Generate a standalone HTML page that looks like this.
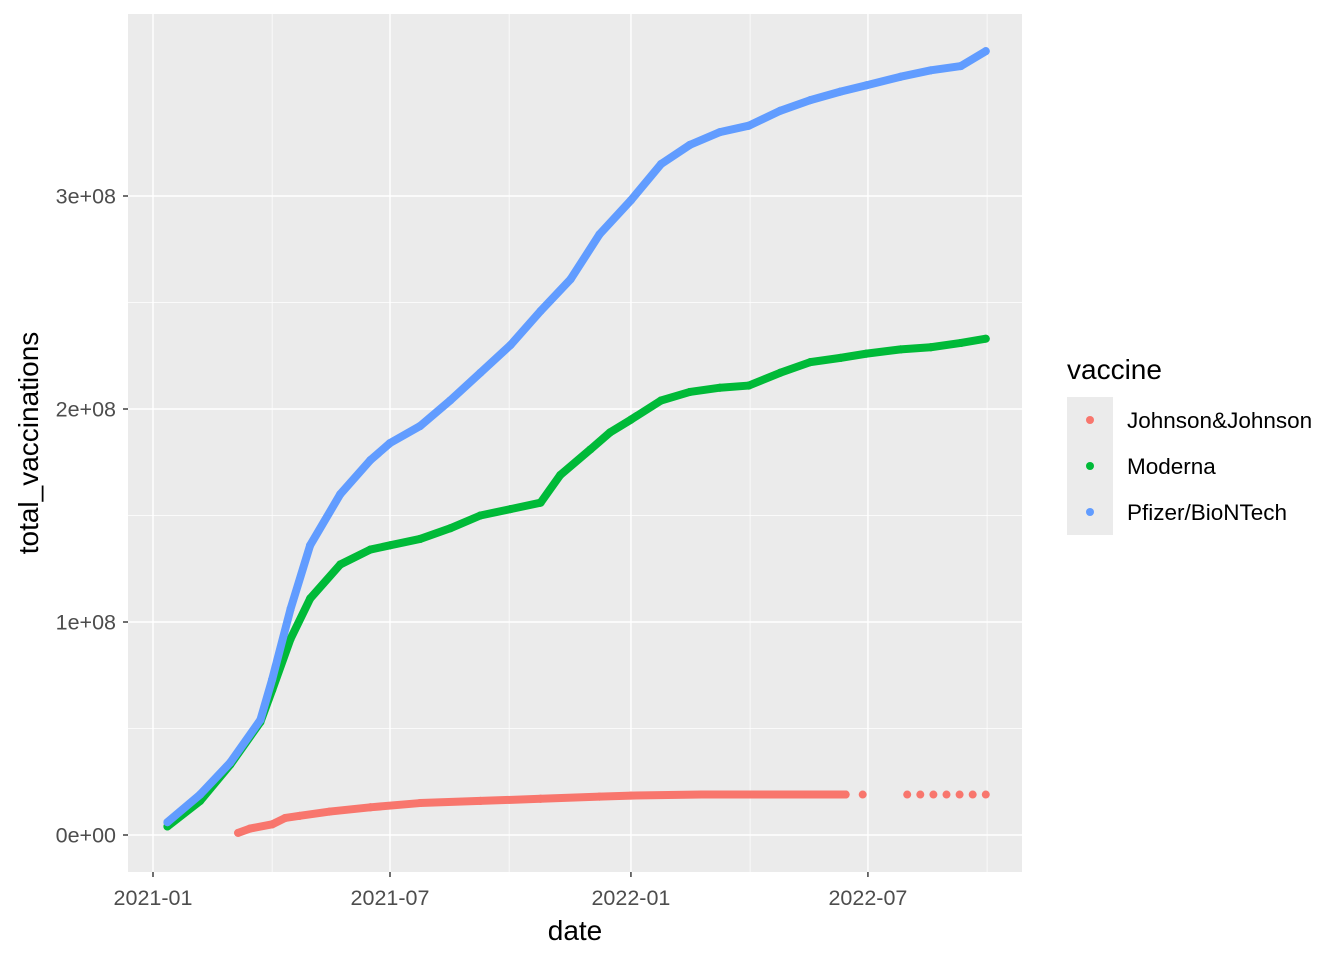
<!DOCTYPE html>
<html><head><meta charset="utf-8"><style>
body{margin:0;background:#fff;}
svg text{font-family:"Liberation Sans",Arial,sans-serif;}
</style></head><body>
<svg id="chart" width="1344" height="960" xmlns="http://www.w3.org/2000/svg">
<rect x="128" y="14" width="894" height="858" fill="#ebebeb"/>
<g id="grid"></g>
<g id="series"></g>
<g id="axes"></g>
<text x="575" y="940" font-size="28" text-anchor="middle" fill="#000">date</text>
<text transform="translate(38,443) rotate(-90)" font-size="28" text-anchor="middle" fill="#000">total_vaccinations</text>
<g>
<text x="1067" y="379" font-size="28" fill="#000">vaccine</text>
<rect x="1067" y="397" width="46" height="138" fill="#ebebeb"/>
<circle cx="1090" cy="420" r="4" fill="#F8766D"/>
<circle cx="1090" cy="466" r="4" fill="#00BA38"/>
<circle cx="1090" cy="512" r="4" fill="#619CFF"/>
<text x="1127" y="428" font-size="22.5">Johnson&amp;Johnson</text>
<text x="1127" y="474" font-size="22.5">Moderna</text>
<text x="1127" y="520" font-size="22.5">Pfizer/BioNTech</text>
</g>
</svg>
<script>
// days since 2021-01-01, values in millions
const pfDays=[11,36,59,82,91,105,120,143,166,181,204,227,250,273,296,319,341,365,388,410,433,455,479,502,525,545,571,594,617,636];
const pfVals=[6,19,34,54,73,106,136,160,176,184,192,204,217,230,246,261,282,298,315,324,330,333,340,345,349,352,356,359,361,368];
const moDays=[11,36,59,82,91,105,120,143,166,181,204,227,250,273,296,311,334,349,365,388,410,433,455,479,502,525,545,571,594,617,636];
const moVals=[4,16,33,53,68,92,111,127,134,136,139,144,150,153,156,169,181,189,195,204,208,210,211,217,222,224,226,228,229,231,233];
const jjDays=[65,74,91,101,112,135,166,204,250,296,341,365,419,457,500,529];
const jjVals=[1,3,5,8,9,11,13,15,16,17,18,18.5,19,19,19,19];
const jjLateDays=[542,576,586,596,606,616,626,636];
const jjLateVals=[19,19,19,19,19,19,19,19];
const yTicks=[0,100,200,300];
const yLabels=["0e+00","1e+08","2e+08","3e+08"];
const xTickDays=[0,181,365,546];
const xLabels=["2021-01","2021-07","2022-01","2022-07"];
const NS="http://www.w3.org/2000/svg";
const X=d=>153+d*1.3094;
const Y=v=>835-v*2.13;
function mk(tag,attrs,parent){const e=document.createElementNS(NS,tag);for(const k in attrs)e.setAttribute(k,attrs[k]);parent.appendChild(e);return e;}
const grid=document.getElementById('grid'),axes=document.getElementById('axes'),ser=document.getElementById('series');
for(let i=0;i<yTicks.length;i++){
  const y=Y(yTicks[i]);
  const l=mk('line',{x1:128,x2:1022,y1:y,y2:y,stroke:'#fff','stroke-width':1.4},grid);
  
  
  if(i<yTicks.length-1){const ym=Y(yTicks[i]+50);
    const m=mk('line',{x1:128,x2:1022,y1:ym,y2:ym,stroke:'#fff','stroke-width':0.7},grid);
    
    }
  mk('line',{x1:123,x2:128,y1:y,y2:y,stroke:'#333','stroke-width':1.4},axes);
  const t=mk('text',{x:116,y:y+7.5,'font-size':21.5,'text-anchor':'end',fill:'#4d4d4d'},axes);
  t.textContent=yLabels[i];
  
  
}
for(let i=0;i<xTickDays.length;i++){
  const x=X(xTickDays[i]);
  const l=mk('line',{x1:x,x2:x,y1:14,y2:872,stroke:'#fff','stroke-width':1.4},grid);
  
  
  const xm=X(xTickDays[i]+91);
  const m=mk('line',{x1:xm,x2:xm,y1:14,y2:872,stroke:'#fff','stroke-width':0.7},grid);
  
  
  mk('line',{x1:x,x2:x,y1:872,y2:877,stroke:'#333','stroke-width':1.4},axes);
  const t=mk('text',{x:x,y:905,'font-size':21.5,'text-anchor':'middle',fill:'#4d4d4d'},axes);
  t.textContent=xLabels[i];
  
  
}
function draw(days,vals,color,name,connect){
  const g=mk('g',{},ser);
  
  
  if(connect){
    for(let i=0;i<days.length-1;i++){
      const s=mk('line',{x1:X(days[i]),y1:Y(vals[i]),x2:X(days[i+1]),y2:Y(vals[i+1]),stroke:color,'stroke-width':8,'stroke-linecap':'round'},g);
      
      
    }
  }
  for(let i=0;i<days.length;i++){
    const c=mk('circle',{cx:X(days[i]),cy:Y(vals[i]),r:4,fill:color},g);
    
    
  }
}
draw(jjDays,jjVals,'#F8766D','jj-series',true);
draw(jjLateDays,jjLateVals,'#F8766D','jj-late-series',false);
draw(moDays,moVals,'#00BA38','moderna-series',true);
draw(pfDays,pfVals,'#619CFF','pfizer-series',true);
</script>
</body></html>
